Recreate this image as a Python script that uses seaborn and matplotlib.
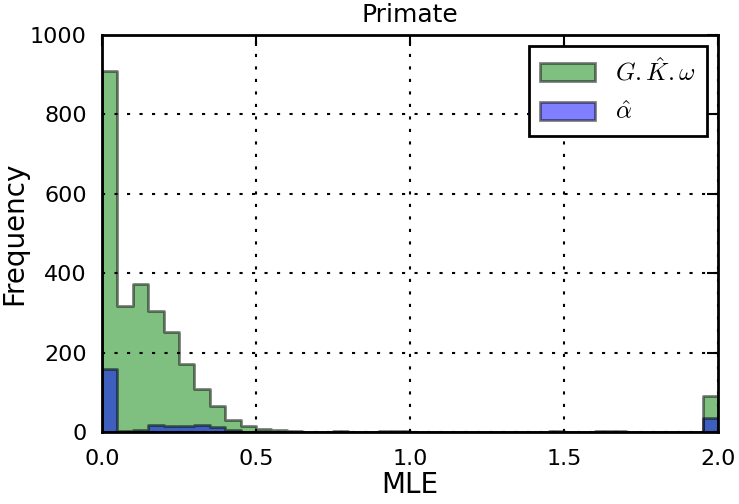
import numpy as np
import pandas as pd
import matplotlib
matplotlib.use("Agg")
import matplotlib.pyplot as plt
import seaborn as sns

# histogram counts, 40 bins of width 0.05 on [0, 2]
bin_left = [round(0.05 * i, 2) for i in range(40)]
gkw_counts = [909, 317, 373, 305, 252, 171, 108, 65, 30, 15,
              8, 4, 2, 1, 1, 2, 1, 1, 2, 2,
              1, 1, 1, 1, 1, 1, 1, 1, 1, 2,
              1, 1, 2, 2, 1, 1, 1, 1, 0, 91]
alpha_counts = [159, 2, 5, 17, 15, 14, 17, 12, 4, 1,
                0, 0, 0, 0, 0, 0, 0, 0, 0, 0,
                0, 0, 0, 0, 0, 0, 0, 0, 0, 0,
                0, 0, 0, 0, 0, 0, 0, 0, 0, 35]

title = "Primate"
xlabel = "MLE"
ylabel = "Frequency"

sns.set_style("white")
plt.rcParams['font.family'] = ['DejaVu Sans']
plt.rcParams['mathtext.fontset'] = 'cm'
# plain black text and ticks, like the old matplotlib look
for key in ['text.color', 'axes.labelcolor', 'xtick.color', 'ytick.color']:
    plt.rcParams[key] = 'black'

df = pd.DataFrame({'x': [b + 0.025 for b in bin_left],
                   'gkw': gkw_counts,
                   'alpha': alpha_counts})

fig, ax = plt.subplots(figsize=(7.39, 5.04), dpi=100)
fig.subplots_adjust(left=0.138, right=0.9716, top=0.9306, bottom=0.1429)

# edge is black at half alpha -> grey on white, darker over the green
edge = (0, 0, 0, 0.5)
sns.histplot(data=df, x='x', weights='gkw', binwidth=0.05, binrange=(0, 2),
             element='step', fill=True, color='g', alpha=0.5,
             edgecolor=edge, linewidth=2, label=r'$G.\hat{K}.\omega$', ax=ax)
sns.histplot(data=df, x='x', weights='alpha', binwidth=0.05, binrange=(0, 2),
             element='step', fill=True, color='b', alpha=0.5,
             edgecolor=edge, linewidth=2, label=r'$\hat{\alpha}$', ax=ax)

ax.set_xlim(0, 2)
ax.set_ylim(0, 1000)
ax.set_xticks([0.0, 0.5, 1.0, 1.5, 2.0])
ax.set_yticks([0, 200, 400, 600, 800, 1000])
ax.set_title(title, fontsize=18, pad=9)
ax.set_xlabel(xlabel, fontsize=20, labelpad=2)
ax.set_ylabel(ylabel, fontsize=20, labelpad=1)
ax.tick_params(direction='in', top=True, right=True, length=8, width=1.5,
               labelsize=16, pad=11, colors='black')
ax.tick_params(axis='x', pad=12)
ax.grid(True, color='k', linestyle=(0, (1.5, 4.5)), linewidth=1.5)
ax.set_axisbelow(False)
for s in ax.spines.values():
    s.set_visible(True)
    s.set_color('k')
    s.set_linewidth(2)

leg = ax.legend(loc='upper right', fontsize=18, fancybox=False,
                framealpha=1, edgecolor='k', handlelength=2.2,
                handleheight=0.75, borderpad=0.45, labelspacing=0.6,
                handletextpad=0.8, borderaxespad=0.45)
leg.get_frame().set_linewidth(2)

fig.savefig('out.png', dpi=100)
